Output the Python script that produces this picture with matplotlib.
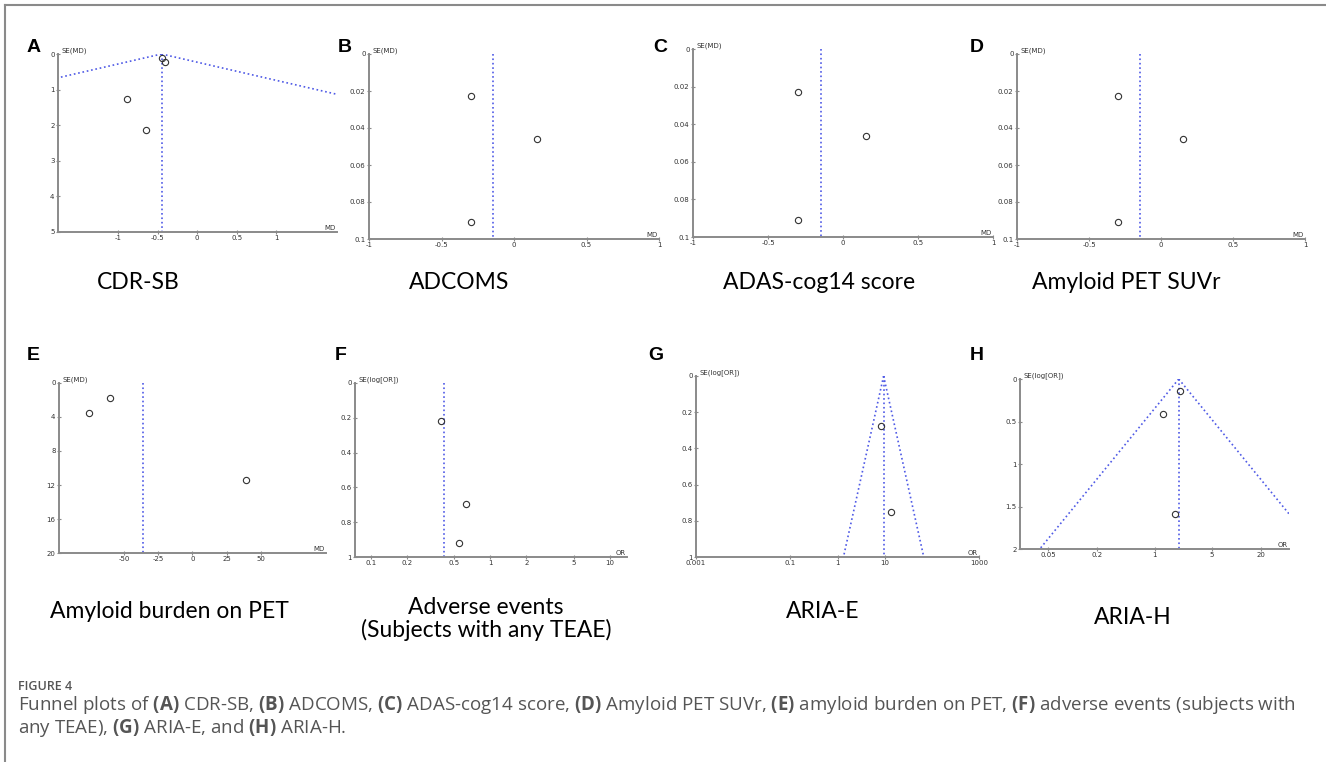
import numpy as np
import matplotlib.pyplot as plt
from matplotlib.ticker import NullLocator

plt.rcParams['mathtext.fontset'] = 'custom'
plt.rcParams['mathtext.rm'] = 'Open Sans'
plt.rcParams['mathtext.bf'] = 'Open Sans:bold'

# ---- data ----
# A: CDR-SB
a_md = [-0.45, -0.41, -0.89, -0.65]
a_se = [0.10, 0.23, 1.26, 2.13]
a_pool = -0.45
# B, C, D: ADCOMS, ADAS-cog14, Amyloid PET SUVr (same picture)
b_md = [-0.30, 0.156, -0.30]
b_se = [0.0229, 0.0462, 0.091]
b_pool = -0.147
# E: amyloid burden
e_md = [-60.3, -76.0, 39.0]
e_se = [1.72, 3.48, 11.4]
e_pool = -36.5
# F: adverse events (OR)
f_or = [0.386, 0.624, 0.548]
f_se = [0.216, 0.695, 0.917]
f_pool = 0.411
# G: ARIA-E
g_or = [8.3, 13.4]
g_se = [0.275, 0.754]
g_pool = 9.5
# H: ARIA-H
h_or = [2.06, 1.26, 1.77]
h_se = [0.137, 0.415, 1.585]
h_pool = 1.98

letters = ['A', 'B', 'C', 'D', 'E', 'F', 'G', 'H']
titles = ['CDR-SB', 'ADCOMS', 'ADAS-cog14 score', 'Amyloid PET SUVr',
          'Amyloid burden on PET', 'Adverse events\n(Subjects with any TEAE)',
          'ARIA-E', 'ARIA-H']

W, H = 1326, 762
fig = plt.figure(figsize=(W / 100, H / 100), dpi=100)

GRAY = '#8a8a8a'
BLUE = '#4f5ae6'


def px_axes(l, t, r, b):
    return fig.add_axes([l / W, 1 - b / H, (r - l) / W, (b - t) / H])


def style(ax, ylab, xlab, yticks, ylabels, xticks, xlabels):
    for s in ['top', 'right']:
        ax.spines[s].set_visible(False)
    for s in ['left', 'bottom']:
        ax.spines[s].set_color(GRAY)
        ax.spines[s].set_linewidth(1.4)
    ax.set_yticks(yticks)
    ax.set_yticklabels(ylabels)
    ax.set_xticks(xticks)
    ax.set_xticklabels(xlabels)
    ax.xaxis.set_minor_locator(NullLocator())
    ax.tick_params(direction='inout', length=3, width=0.8, color=GRAY,
                   labelsize=5, labelcolor='#333333', pad=1)
    ax.invert_yaxis()
    ax.text(0.012, 1.0, ylab, transform=ax.transAxes, fontsize=5,
            color='#333333', va='bottom', ha='left')
    ax.text(0.995, 0.005, xlab, transform=ax.transAxes, fontsize=5,
            color='#333333', va='bottom', ha='right')


def points(ax, x, y):
    ax.plot(x, y, 'o', mfc='none', mec='#333333', ms=4.5, mew=0.8, clip_on=False)


def funnel_lin(ax, pool, ymax):
    s = np.array([0, ymax])
    ax.plot(pool - 1.96 * s, s, ':', color=BLUE, lw=1.2)
    ax.plot(pool + 1.96 * s, s, ':', color=BLUE, lw=1.2)


def funnel_log(ax, pool, ymax):
    s = np.linspace(0, ymax, 50)
    ax.plot(pool * np.exp(-1.96 * s), s, ':', color=BLUE, lw=1.2)
    ax.plot(pool * np.exp(1.96 * s), s, ':', color=BLUE, lw=1.2)


# ---- A ----
ax = px_axes(58, 54, 337, 232)
funnel_lin(ax, a_pool, 5)
ax.plot([a_pool, a_pool], [0, 5], ':', color=BLUE, lw=1.2)
points(ax, a_md, a_se)
ax.set_xlim(-1.76, 1.77)
ax.set_ylim(0, 5)
style(ax, 'SE(MD)', 'MD', [0, 1, 2, 3, 4, 5], ['0', '1', '2', '3', '4', '5'],
      [-1, -0.5, 0, 0.5, 1], ['-1', '-0.5', '0', '0.5', '1'])

# ---- B, C, D ----
for box in [(369, 54, 659, 239), (693, 49, 993, 237), (1017, 54, 1305, 239)]:
    ax = px_axes(*box)
    ax.plot([b_pool, b_pool], [0, 0.1], ':', color=BLUE, lw=1.2)
    points(ax, b_md, b_se)
    ax.set_xlim(-1, 1)
    ax.set_ylim(0, 0.1)
    style(ax, 'SE(MD)', 'MD', [0, 0.02, 0.04, 0.06, 0.08, 0.1],
          ['0', '0.02', '0.04', '0.06', '0.08', '0.1'],
          [-1, -0.5, 0, 0.5, 1], ['-1', '-0.5', '0', '0.5', '1'])

# ---- E ----
ax = px_axes(59, 383, 326, 553)
ax.plot([e_pool, e_pool], [0, 20], ':', color=BLUE, lw=1.2)
points(ax, e_md, e_se)
ax.set_xlim(-98, 98)
ax.set_ylim(0, 20)
style(ax, 'SE(MD)', 'MD', [0, 4, 8, 12, 16, 20], ['0', '4', '8', '12', '16', '20'],
      [-50, -25, 0, 25, 50], ['-50', '-25', '0', '25', '50'])

# ---- F ----
ax = px_axes(355, 383, 627, 557)
ax.set_xscale('log')
ax.plot([f_pool, f_pool], [0, 1], ':', color=BLUE, lw=1.2)
points(ax, f_or, f_se)
ax.set_xlim(0.0735, 13.9)
ax.set_ylim(0, 1)
style(ax, 'SE(log[OR])', 'OR', [0, 0.2, 0.4, 0.6, 0.8, 1],
      ['0', '0.2', '0.4', '0.6', '0.8', '1'],
      [0.1, 0.2, 0.5, 1, 2, 5, 10], ['0.1', '0.2', '0.5', '1', '2', '5', '10'])

# ---- G ----
ax = px_axes(696, 376, 979, 557)
ax.set_xscale('log')
funnel_log(ax, g_pool, 1)
ax.plot([g_pool, g_pool], [0, 1], ':', color=BLUE, lw=1.2)
points(ax, g_or, g_se)
ax.set_xlim(0.001, 1000)
ax.set_ylim(0, 1)
style(ax, 'SE(log[OR])', 'OR', [0, 0.2, 0.4, 0.6, 0.8, 1],
      ['0', '0.2', '0.4', '0.6', '0.8', '1'],
      [0.001, 0.1, 1, 10, 1000], ['0.001', '0.1', '1', '10', '1000'])

# ---- H ----
ax = px_axes(1020, 379, 1289, 549)
ax.set_xscale('log')
funnel_log(ax, h_pool, 2)
ax.plot([h_pool, h_pool], [0, 2], ':', color=BLUE, lw=1.2)
points(ax, h_or, h_se)
ax.set_xlim(0.0225, 44.4)
ax.set_ylim(0, 2)
style(ax, 'SE(log[OR])', 'OR', [0, 0.5, 1, 1.5, 2], ['0', '0.5', '1', '1.5', '2'],
      [0.05, 0.2, 1, 5, 20], ['0.05', '0.2', '1', '5', '20'])

# ---- panel letters and titles ----
letter_pos = [(27, 47), (338, 47), (653, 47), (970, 47),
              (27, 355), (335, 355), (648, 355), (970, 355)]
title_pos = [(138, 283), (459, 283), (819, 283), (1126, 283),
             (169, 611), (486, 619), (823, 611), (1133, 617)]
for L, (x, y) in zip(letters, letter_pos):
    fig.text(x / W, 1 - y / H, L, fontsize=14, fontweight='bold',
             family='Liberation Sans', va='center', ha='left')
for t, (x, y) in zip(titles, title_pos):
    fig.text(x / W, 1 - y / H, t, fontsize=16.5, family='Lato',
             va='center', ha='center', linespacing=1.1)

# ---- caption ----
fig.text(18 / W, 1 - 686 / H, 'FIGURE 4', fontsize=9, color='#555555',
         family='Open Sans', fontweight='semibold', va='center', ha='left')
fig.text(18 / W, 1 - 705 / H,
         'Funnel plots of $\\bf{(A)}$ CDR-SB, $\\bf{(B)}$ ADCOMS, $\\bf{(C)}$ ADAS-cog14 score, '
         '$\\bf{(D)}$ Amyloid PET SUVr, $\\bf{(E)}$ amyloid burden on PET, '
         '$\\bf{(F)}$ adverse events (subjects with',
         fontsize=13.5, color='#555555', family='Open Sans', va='center', ha='left')
fig.text(18 / W, 1 - 728 / H,
         'any TEAE), $\\bf{(G)}$ ARIA-E, and $\\bf{(H)}$ ARIA-H.',
         fontsize=13.5, color='#555555', family='Open Sans', va='center', ha='left')

# ---- frame ----
fig.add_artist(plt.Line2D([5 / W, 5 / W], [0, 1 - 5 / H], color=GRAY, lw=1.5))
fig.add_artist(plt.Line2D([5 / W, 1], [1 - 5 / H, 1 - 5 / H], color=GRAY, lw=1.5))

fig.savefig('out.png', dpi=100)
